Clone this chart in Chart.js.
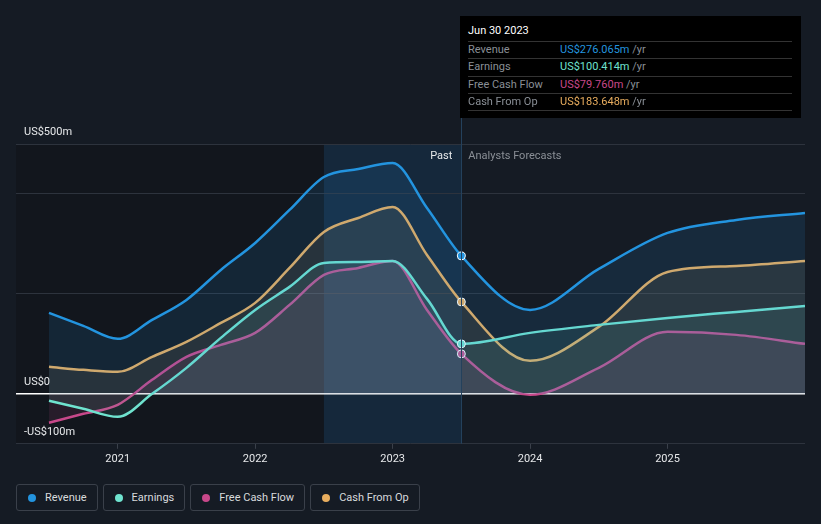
<!DOCTYPE html>
<html>
<head>
<meta charset="utf-8">
<script src="https://cdn.jsdelivr.net/npm/chart.js@4"></script>
<style>
  body { margin: 0; background: #151b24; font-family: Roboto, "Noto Sans", sans-serif; }
  #wrap { position: relative; width: 821px; height: 524px; }
  #chart { position: absolute; left: 0; top: 0; }
  #tip { position: absolute; left: 460px; top: 16px; width: 341px; height: 102px; background: #000; font-size: 11px; }
  #tip .hd { position: absolute; left: 8px; top: 8px; color: #fff; font-size: 11px; }
  #tip .row { position: absolute; left: 8px; width: 324px; height: 17px; border-top: 1px solid #333; line-height: 16px; }
  #tip .lab { position: absolute; left: 0; color: #8a8f96; }
  #tip .val { position: absolute; left: 92px; }
  #tip .yr { color: #8a8f96; }
  #legend { position: absolute; left: 16px; top: 484px; display: flex; gap: 5px; }
  .lg { height: 27px; border: 1px solid #3a404a; border-radius: 3px; box-sizing: border-box; display: flex; align-items: center; padding: 0 10px 0 11px; color: #d8dadd; font-size: 11px; }
  .lg i { width: 8px; height: 8px; border-radius: 50%; display: inline-block; margin-right: 9px; }
</style>
</head>
<body>
<div id="wrap">
  <canvas id="chart" width="821" height="474"></canvas>
  <div id="tip"></div>
  <div id="legend"></div>
</div>
<script>
// years (decimal) for every point
const years = [2020.5, 2020.75, 2021.0, 2021.25, 2021.5, 2021.75, 2022.0, 2022.25, 2022.5, 2022.75, 2023.0, 2023.25, 2023.5, 2024.0, 2024.5, 2025.0, 2025.5, 2026.0];

// values in US$ millions
const revenue      = [162, 136, 110, 148, 188, 248, 302, 368, 434, 450, 462, 372, 276, 168, 250, 322, 348, 362];
const earnings     = [-14, -30, -46, 0, 52, 112, 168, 214, 262, 264, 266, 190, 100, 122, 138, 152, 164, 176];
const freeCashFlow = [-58, -40, -22, 28, 74, 98, 122, 178, 238, 252, 266, 168, 80, -2, 52, 124, 118, 100];
const cashFromOp   = [54, 48, 44, 74, 104, 142, 182, 252, 324, 352, 374, 278, 184, 66, 134, 244, 256, 266];

const xTicks = [2021, 2022, 2023, 2024, 2025];
const yGrid = [-100, 0, 200, 400, 500];
const yLabels = [
    { v: 500, text: 'US$500m' },
    { v: 0, text: 'US$0' },
    { v: -100, text: '-US$100m' }
];

const pastStart = 2022.5;
const nowYear = 2023.5;
const nowIndex = years.indexOf(nowYear);

const series = [
    { label: 'Revenue', data: revenue, color: '#2394df', fill: 'rgba(35,148,223,0.13)', tip: 'US$276.065m' },
    { label: 'Earnings', data: earnings, color: '#6fe3cf', fill: 'rgba(111,227,207,0.10)', tip: 'US$100.414m' },
    { label: 'Free Cash Flow', data: freeCashFlow, color: '#c8488a', fill: 'rgba(200,72,138,0.12)', tip: 'US$79.760m' },
    { label: 'Cash From Op', data: cashFromOp, color: '#e8ad5e', fill: 'rgba(232,173,94,0.10)', tip: 'US$183.648m' }
];

// fondo: zona pasada y banda del último año
const bgPlugin = {
    id: 'bgRegions',
    beforeDraw(chart) {
        const { ctx, chartArea: a, scales: { x } } = chart;
        const xs = x.getPixelForValue(pastStart);
        const xn = x.getPixelForValue(nowYear);
        ctx.save();
        ctx.fillStyle = '#12161d';
        ctx.fillRect(a.left, a.top, xs - a.left, a.bottom - a.top);
        ctx.fillStyle = '#15283b';
        ctx.fillRect(xs, a.top, xn - xs, a.bottom - a.top);
        ctx.restore();
    },
    afterDatasetsDraw(chart) {
        const { ctx, chartArea: a, scales: { x, y } } = chart;
        const xn = x.getPixelForValue(nowYear);
        ctx.save();
        ctx.strokeStyle = '#24415c';
        ctx.lineWidth = 1;
        ctx.beginPath();
        ctx.moveTo(Math.round(xn) + 0.5, 118);
        ctx.lineTo(Math.round(xn) + 0.5, a.bottom);
        ctx.stroke();

        ctx.font = '11px Roboto, "Noto Sans", sans-serif';
        ctx.textBaseline = 'middle';
        ctx.textAlign = 'right';
        ctx.fillStyle = '#e6e8ea';
        ctx.fillText('Past', xn - 9, a.top + 12);
        ctx.textAlign = 'left';
        ctx.fillStyle = '#8a8f96';
        ctx.fillText('Analysts Forecasts', xn + 7, a.top + 12);

        ctx.fillStyle = '#e6e8ea';
        yLabels.forEach(l => {
            ctx.fillText(l.text, 24, y.getPixelForValue(l.v) - 12);
        });
        ctx.restore();
    }
};

const chart = new Chart(document.getElementById('chart').getContext('2d'), {
    type: 'line',
    data: {
        datasets: series.map(s => ({
            label: s.label,
            data: years.map((yr, i) => ({ x: yr, y: s.data[i] })),
            borderColor: s.color,
            backgroundColor: s.fill,
            borderWidth: 2.5,
            fill: 'origin',
            cubicInterpolationMode: 'monotone',
            pointRadius: years.map((_, i) => i === nowIndex ? 4 : 0),
            pointBackgroundColor: s.color,
            pointBorderColor: '#ffffff',
            pointBorderWidth: 1
        }))
    },
    options: {
        responsive: false,
        animation: false,
        layout: { padding: { left: 16, right: 16, top: 144, bottom: 4 } },
        plugins: { legend: { display: false }, tooltip: { enabled: false } },
        scales: {
            x: {
                type: 'linear',
                min: 2020.26,
                max: 2026.0,
                afterBuildTicks: scale => { scale.ticks = xTicks.map(v => ({ value: v })); },
                grid: { drawOnChartArea: false, drawTicks: true, tickLength: 5, tickColor: '#3a404a' },
                border: { display: false },
                ticks: {
                    color: '#e6e8ea',
                    font: { family: 'Roboto', size: 11 },
                    padding: 4,
                    maxRotation: 0,
                    callback: v => String(v)
                }
            },
            y: {
                min: -100,
                max: 500,
                afterBuildTicks: scale => { scale.ticks = yGrid.map(v => ({ value: v })); },
                border: { display: false },
                ticks: { display: false },
                grid: {
                    drawTicks: false,
                    color: c => c.tick && c.tick.value === 0 ? '#ffffff' : '#2d333d',
                    lineWidth: c => c.tick && c.tick.value === 0 ? 1.5 : 1
                }
            }
        }
    },
    plugins: [bgPlugin]
});

// recuadro fijo con los valores del último periodo
const tip = document.getElementById('tip');
tip.innerHTML = '<div class="hd">Jun 30 2023</div>' + series.map((s, i) =>
    `<div class="row" style="top:${25 + Math.round(i * 17.3)}px"><span class="lab">${s.label}</span>` +
    `<span class="val"><span style="color:${s.color}">${s.tip}</span> <span class="yr">/yr</span></span></div>`
).join('') + `<div class="row" style="top:${25 + Math.round(4 * 17.3)}px"></div>`;

// leyenda
document.getElementById('legend').innerHTML = series.map(s =>
    `<div class="lg"><i style="background:${s.color}"></i>${s.label}</div>`
).join('');
</script>
</body>
</html>
